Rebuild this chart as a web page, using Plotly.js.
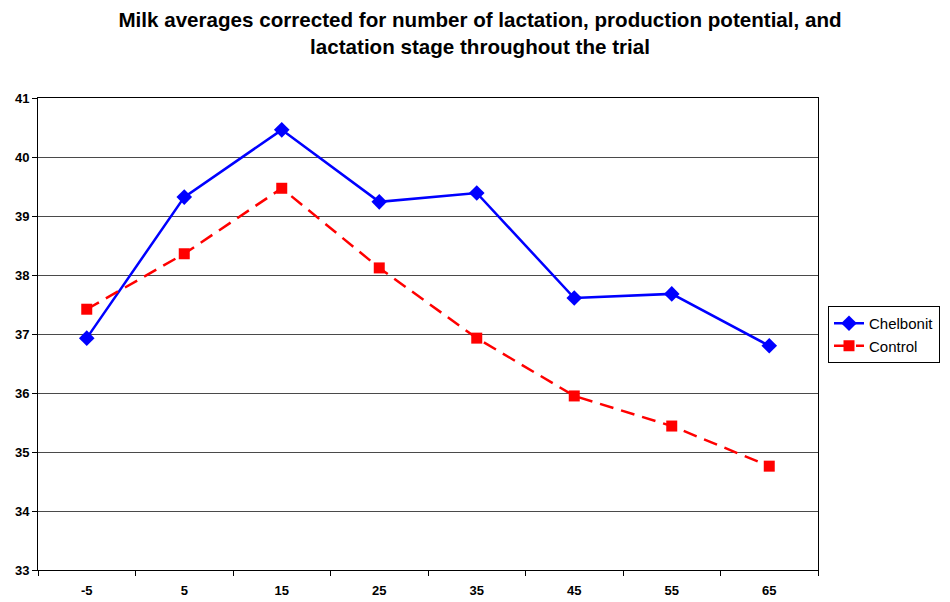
<!DOCTYPE html>
<html>
<head>
<meta charset="utf-8">
<script src="https://cdn.plot.ly/plotly-3.0.1.min.js"></script>
<style>html,body{margin:0;padding:0;background:#fff;}#chart{width:950px;height:602px;}</style>
</head>
<body>
<div id="chart"></div>
<script>
const categories = ["-5", "5", "15", "25", "35", "45", "55", "65"];
const chelbonit = [36.93, 39.32, 40.46, 39.24, 39.39, 37.61, 37.68, 36.80];
const control = [37.42, 38.36, 39.47, 38.12, 36.93, 35.95, 35.44, 34.76];
const yTicks = [33, 34, 35, 36, 37, 38, 39, 40, 41];

const FONT = "Arial, Liberation Sans, sans-serif";

const traces = [
  {
    x: categories, y: chelbonit, name: "Chelbonit", type: "scatter", mode: "lines+markers",
    line: {color: "#0000FF", width: 2.5},
    marker: {symbol: "diamond", size: 12, color: "#0000FF"}
  },
  {
    x: categories, y: control, name: "Control", type: "scatter", mode: "lines+markers",
    line: {color: "#FF0000", width: 2.5, dash: "14px,8px"},
    marker: {symbol: "square", size: 11, color: "#FF0000"}
  }
];

const layout = {
  width: 950, height: 602,
  paper_bgcolor: "#ffffff", plot_bgcolor: "#ffffff",
  margin: {l: 38, r: 132, t: 98, b: 32},
  title: {
    text: "<b>Milk averages corrected for number of lactation, production potential, and<br>lactation stage throughout the trial</b>",
    font: {family: FONT, size: 20.6, color: "#000"},
    x: 480/950, xref: "container", xanchor: "center", y: 0.955, yref: "container", yanchor: "top"
  },
  font: {family: FONT, color: "#000"},
  xaxis: {
    type: "category", range: [-0.5, 7.5], tickson: "boundaries",
    ticks: "outside", ticklen: 5, tickcolor: "#000", tickwidth: 1,
    showline: true, linecolor: "#000", linewidth: 1, mirror: true,
    showgrid: false, zeroline: false, ticklabelstandoff: 8,
    tickfont: {size: 13, family: FONT, weight: "bold"}
  },
  yaxis: {
    range: [33, 41], tickvals: yTicks, ticktext: yTicks.map(String),
    ticks: "outside", ticklen: 5, tickcolor: "#000", tickwidth: 1,
    showline: true, linecolor: "#000", linewidth: 1, mirror: true,
    showgrid: true, gridcolor: "#4a4a4a", gridwidth: 1, zeroline: false,
    tickfont: {size: 13, family: FONT, weight: "bold"}
  },
  showlegend: true,
  legend: {
    x: 828/950, xref: "container", xanchor: "left",
    y: 1 - 306/602, yref: "container", yanchor: "top",
    bordercolor: "#000", borderwidth: 1, bgcolor: "#fff",
    font: {size: 15, family: FONT, color: "#000"},
    tracegroupgap: 0, itemwidth: 30
  }
};

Plotly.newPlot("chart", traces, layout, {displayModeBar: false, staticPlot: true});
</script>
</body>
</html>
